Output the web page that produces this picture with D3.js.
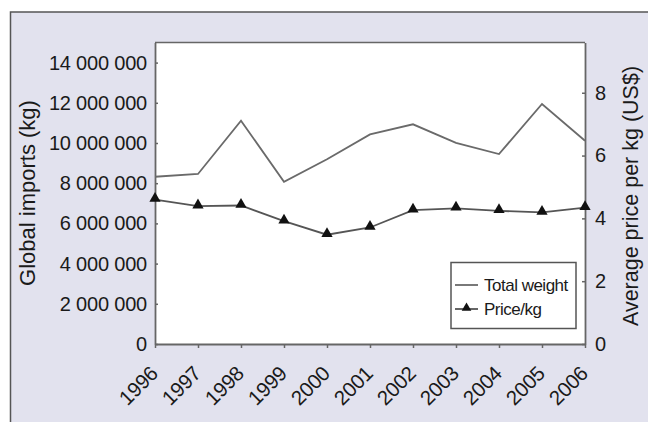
<!DOCTYPE html>
<html><head><meta charset="utf-8">
<script src="https://cdn.jsdelivr.net/npm/d3@7/dist/d3.min.js"></script>
<style>
html,body{margin:0;padding:0;background:#fff;}
svg{display:block;}
text{font-family:"Liberation Sans",Arial,sans-serif;fill:#1a1a1a;}
</style></head>
<body>
<script>
const years = [1996,1997,1998,1999,2000,2001,2002,2003,2004,2005,2006];
const totalWeight = [8320000,8460000,11110000,8070000,9190000,10430000,10930000,10010000,9450000,11940000,10110000];
const pricePerKg = [4.60,4.39,4.41,3.91,3.48,3.71,4.26,4.32,4.24,4.19,4.34];
const leftTicks = [0,2000000,4000000,6000000,8000000,10000000,12000000,14000000];
const rightTicks = [0,2,4,6,8];
const seriesNames = ["Total weight","Price/kg"];

const W=648,H=422;
const m={left:155,right:585,top:42.5,bottom:344};
const svg=d3.select("body").append("svg").attr("width",W).attr("height",H);

svg.append("rect").attr("x",0).attr("y",0).attr("width",W).attr("height",H).attr("fill","#fff");
svg.append("rect").attr("x",10.5).attr("y",12).attr("width",W).attr("height",H).attr("fill","#e2e2ee")
  .attr("stroke","#555").attr("stroke-width",1.5);
svg.append("rect").attr("x",m.left).attr("y",m.top).attr("width",m.right-m.left).attr("height",m.bottom-m.top).attr("fill","#fff");

const x=d3.scalePoint().domain(years).range([m.left,m.right]);
const yL=d3.scaleLinear().domain([0,15000000]).range([m.bottom,m.top]);
const yR=d3.scaleLinear().domain([0,9.6]).range([m.bottom,m.top]);

const fmtL=d=>d3.format(",")(d).replace(/,/g," ");

const gL=svg.append("g").attr("transform",`translate(${m.left},0)`)
  .call(d3.axisLeft(yL).tickValues(leftTicks).tickFormat(fmtL).tickSizeInner(-3).tickSizeOuter(0).tickPadding(8));
const gR=svg.append("g").attr("transform",`translate(${m.right},0)`)
  .call(d3.axisRight(yR).tickValues(rightTicks).tickSizeInner(-3).tickSizeOuter(0).tickPadding(10));
const gB=svg.append("g").attr("transform",`translate(0,${m.bottom})`)
  .call(d3.axisBottom(x).tickSizeInner(4).tickSizeOuter(0).tickPadding(4));

svg.append("line").attr("x1",m.left).attr("x2",m.right).attr("y1",m.top).attr("y2",m.top).attr("stroke","#666").attr("stroke-width",1.5);

[gL,gR,gB].forEach(g=>{
  g.selectAll(".domain").attr("stroke","#666").attr("stroke-width",1.8);
  g.selectAll(".tick line").attr("stroke","#666").attr("stroke-width",1.5);
  g.selectAll(".tick text").attr("font-size",20).attr("fill","#1a1a1a").attr("font-family",'"Liberation Sans",Arial,sans-serif').attr("letter-spacing","-0.2");
});
gB.selectAll(".tick text").attr("text-anchor","end").attr("dy","0.35em")
  .attr("font-size",20.5).attr("transform","translate(-7,20) rotate(-45)");

const lineW=d3.line().x((d,i)=>x(years[i])).y(d=>yL(d));
const lineP=d3.line().x((d,i)=>x(years[i])).y(d=>yR(d));
svg.append("path").attr("d",lineW(totalWeight)).attr("fill","none").attr("stroke","#6a6a6a").attr("stroke-width",1.8);
svg.append("path").attr("d",lineP(pricePerKg)).attr("fill","none").attr("stroke","#555").attr("stroke-width",1.8);
const tri=d3.symbol().type(d3.symbolTriangle).size(55);
svg.append("g").selectAll("path").data(pricePerKg).join("path")
  .attr("d",tri).attr("transform",(d,i)=>`translate(${x(years[i])},${yR(d)-1})`).attr("fill","#111");

svg.append("text").attr("transform","translate(35,193) rotate(-90)").attr("text-anchor","middle")
  .attr("font-size",22).attr("fill","#2a2a2a").text("Global imports (kg)");
svg.append("text").attr("transform","translate(638,196) rotate(-90)").attr("text-anchor","middle")
  .attr("font-size",21.5).attr("fill","#2a2a2a").text("Average price per kg (US$)");

const lg=svg.append("g");
lg.append("rect").attr("x",451).attr("y",262.5).attr("width",125).attr("height",66).attr("fill","#fff").attr("stroke","#555").attr("stroke-width",1.5);
lg.append("line").attr("x1",455).attr("x2",478).attr("y1",285).attr("y2",285).attr("stroke","#6a6a6a").attr("stroke-width",1.8);
lg.append("line").attr("x1",455).attr("x2",478).attr("y1",309).attr("y2",309).attr("stroke","#555").attr("stroke-width",1.8);
lg.append("path").attr("d",d3.symbol().type(d3.symbolTriangle).size(40)).attr("transform","translate(466.5,308)").attr("fill","#111");
lg.append("text").attr("x",484).attr("y",291).attr("font-size",17).attr("letter-spacing","-0.5").text(seriesNames[0]);
lg.append("text").attr("x",484).attr("y",315).attr("font-size",17).attr("letter-spacing","-0.5").text(seriesNames[1]);
</script>
</body></html>
